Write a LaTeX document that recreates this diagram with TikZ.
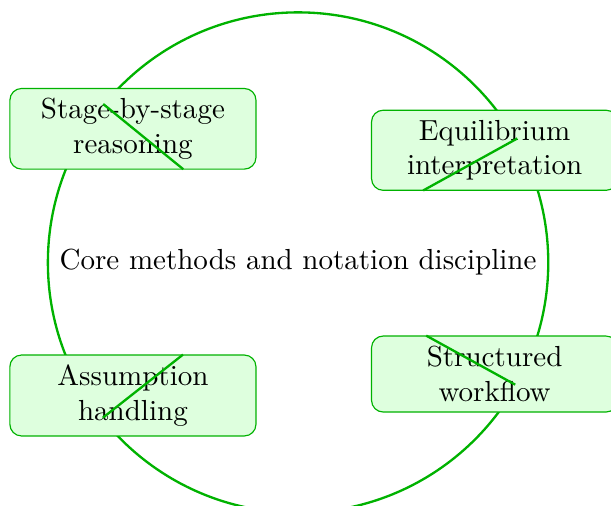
\documentclass[tikz,border=0pt]{standalone}
\usetikzlibrary{positioning}
\usetikzlibrary{calc}
\begin{document}
\begin{tikzpicture}[align=center,cnode/.style={rectangle,rounded corners=4pt,draw=green!70!black,fill=green!13,thin,minimum width=2.98cm,minimum height=0.97cm}, spoke/.style={draw=green!70!black,thick}]
		\useasboundingbox (-3.61,-2.945) rectangle (3.79,3.18);
		\node[circle,draw=green!70!black,thick,inner sep=0pt,minimum size=6.06cm] (core){Core methods and notation discipline};
		\node[cnode] (stage) at (-2.0,1.62){Stage-by-stage\\reasoning};
		\node[cnode] (equil) at (2.38,1.36){Equilibrium\\interpretation};
		\node[cnode] (assum) at (-2.0,-1.61){Assumption\\handling};
		\node[cnode,minimum height=0.92cm] (struct) at (2.38,-1.35){Structured\\workflow};
		\coordinate (stagea) at (-2.36,1.92);
		\coordinate (stageb) at (-1.39,1.13);
		\coordinate (equila) at (1.515,0.873);
		\coordinate (equilb) at (2.655,1.503);
		\coordinate (assuma) at (-2.364,-1.879);
		\coordinate (assumb) at (-1.394,-1.115);
		\coordinate (structa) at (1.552,-0.885);
		\coordinate (structb) at (2.63,-1.479);
		\draw[spoke] (stagea) -- (stageb);
		\draw[spoke] (equila) -- (equilb);
		\draw[spoke] (assuma) -- (assumb);
		\draw[spoke] (structa) -- (structb);
	\end{tikzpicture}
\end{document}
